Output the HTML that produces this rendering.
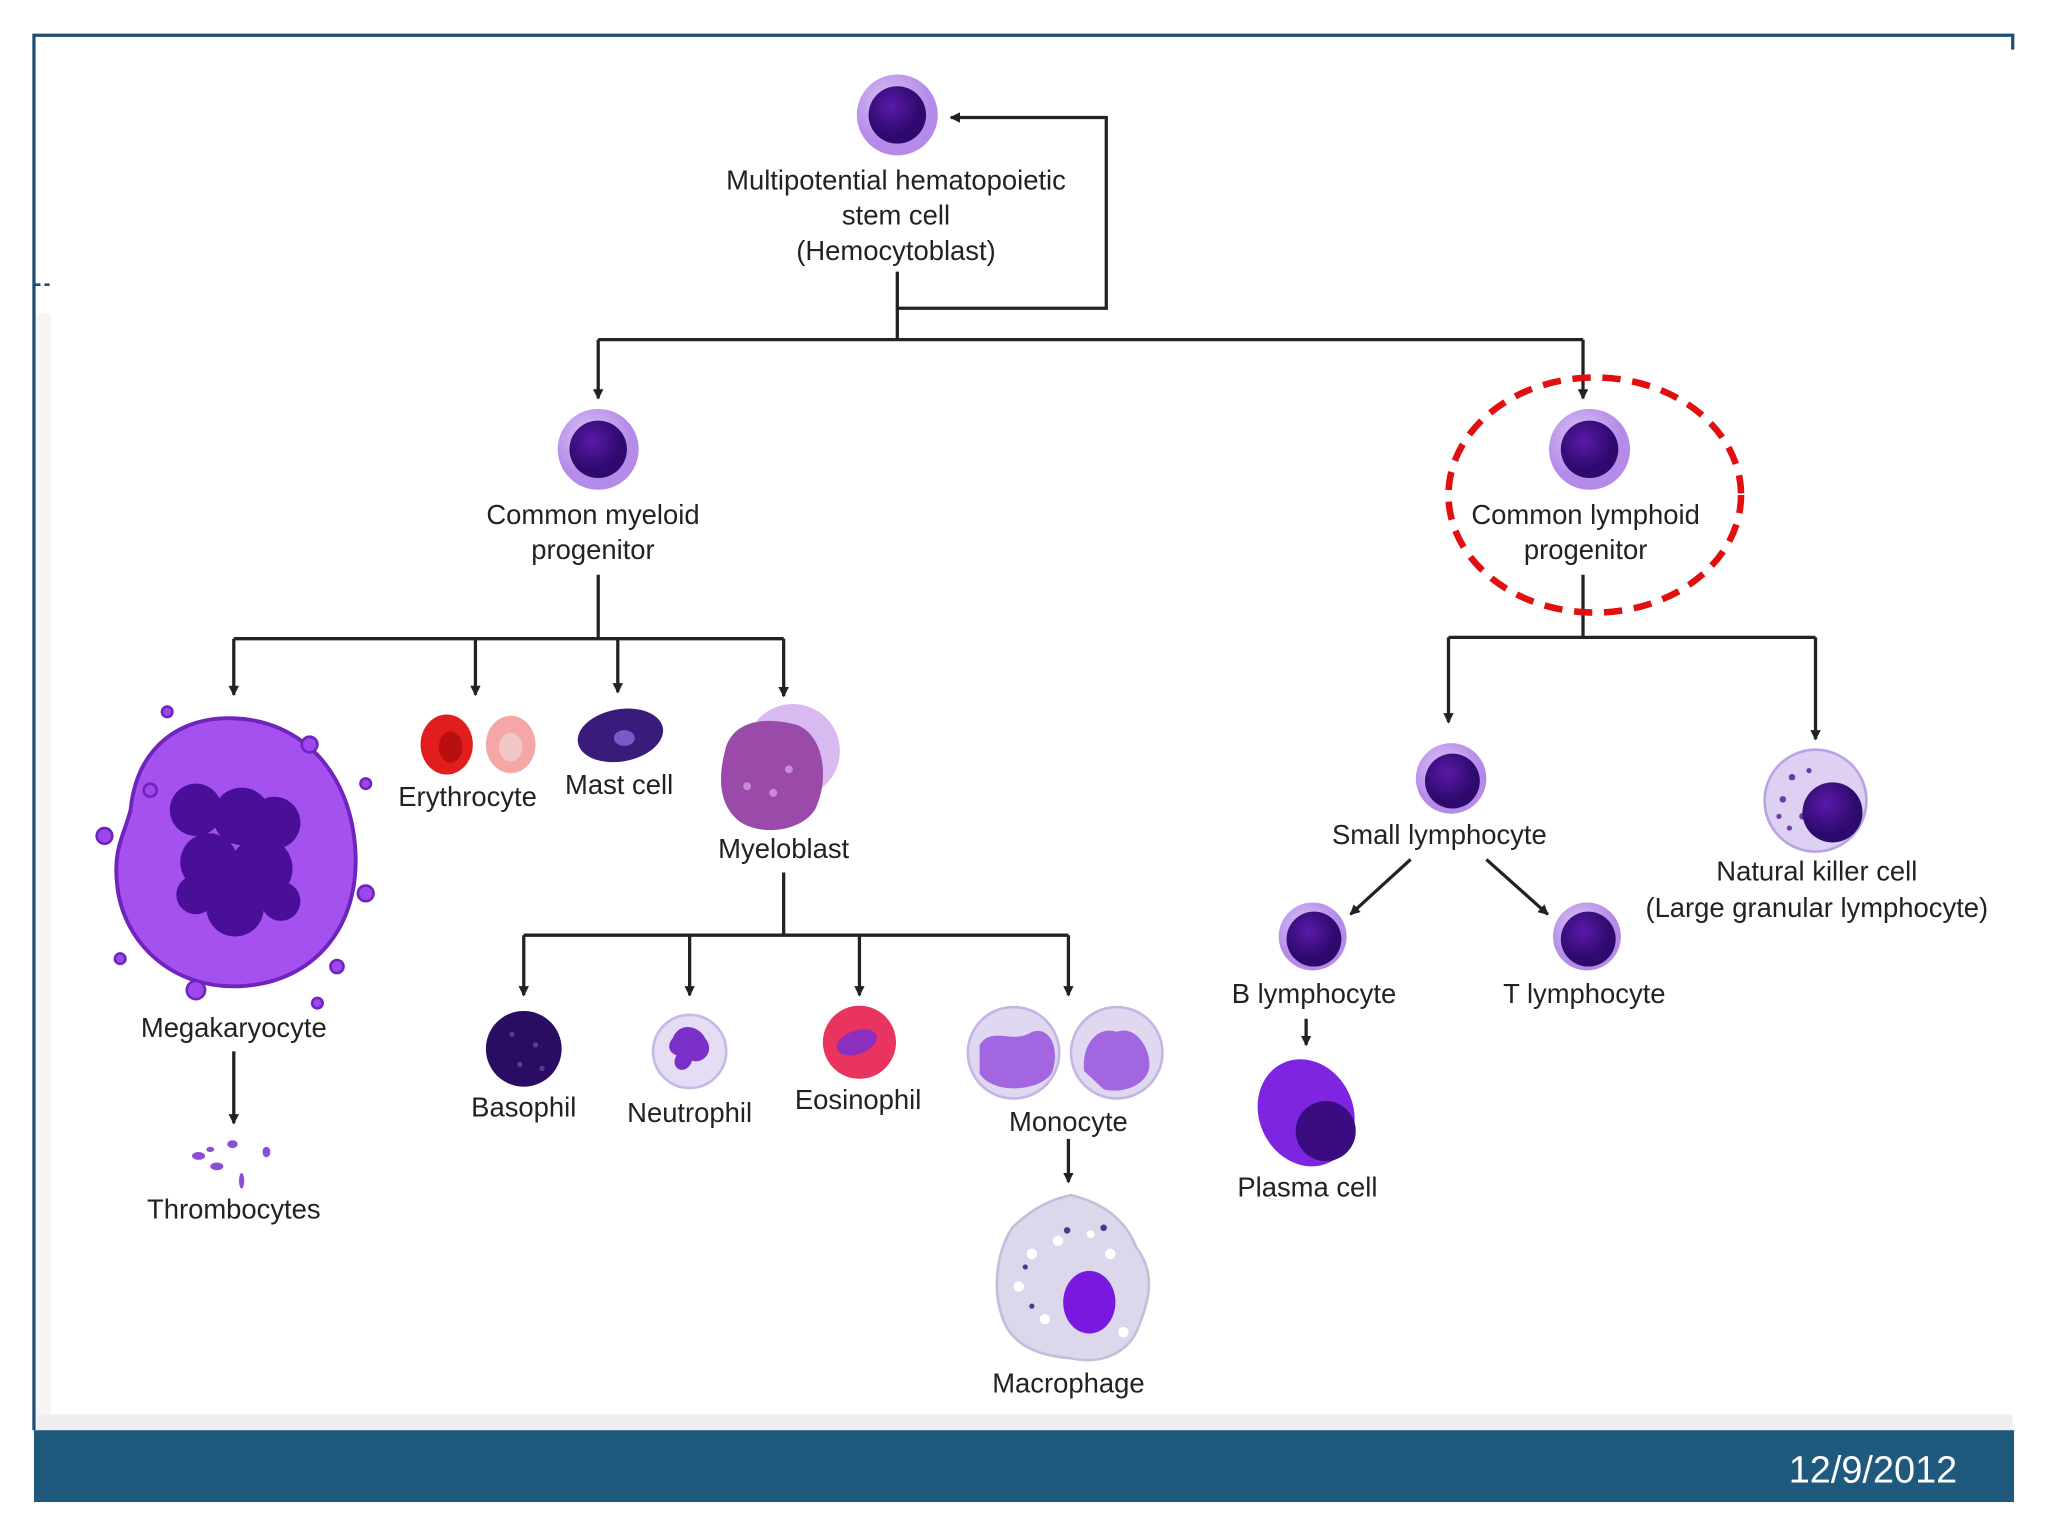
<!DOCTYPE html>
<html><head><meta charset="utf-8"><style>
html,body{margin:0;padding:0;background:#fff;}
svg{display:block;}
text{font-family:"Liberation Sans Narrow","Liberation Sans",sans-serif;font-size:21px;fill:#222;text-anchor:middle;}
</style></head><body>
<svg width="2048" height="1536" viewBox="0 0 1568 1176" preserveAspectRatio="none" xmlns="http://www.w3.org/2000/svg">
<defs>
<marker id="a" markerWidth="8" markerHeight="8" refX="7" refY="4" orient="auto" markerUnits="userSpaceOnUse"><path d="M0,0 L8,4 L0,8 z" fill="#222"/></marker>
<radialGradient id="cyt" cx="0.4" cy="0.35"><stop offset="0" stop-color="#dcc4f6"/><stop offset="1" stop-color="#b48be8"/></radialGradient>
<radialGradient id="nuc" cx="0.4" cy="0.35"><stop offset="0" stop-color="#5a1aa8"/><stop offset="1" stop-color="#2e0a6e"/></radialGradient>
</defs>
<rect width="1568" height="1176" fill="#fff"/>
<path d="M26,1095 V27 H1541 V38" fill="none" stroke="#1f4e72" stroke-width="2.5"/>
<path d="M27,218 H38" stroke="#1f4e72" stroke-width="2" stroke-dasharray="4,3"/>
<rect x="28" y="240" width="11" height="845" fill="#f5f5f5"/>
<rect x="28" y="1083" width="1513" height="12" fill="#efedf1"/>
<rect x="26" y="1095" width="1516" height="55" fill="#1f5a7e"/>
<text x="1434" y="1135" style="font-family:'Liberation Sans',sans-serif;font-size:29px;fill:#fff">12/9/2012</text>

<g fill="none" stroke="#222" stroke-width="2.5">
<path d="M687,208 V236 H847 V90 H728" marker-end="url(#a)"/>
<path d="M687,236 V260"/>
<path d="M458,260 H1212"/>
<path d="M458,260 V305" marker-end="url(#a)"/>
<path d="M1212,260 V305" marker-end="url(#a)"/>
<path d="M458,440 V489 M179,489 H600"/>
<path d="M179,489 V532" marker-end="url(#a)"/>
<path d="M364,489 V532" marker-end="url(#a)"/>
<path d="M473,489 V530" marker-end="url(#a)"/>
<path d="M600,489 V533" marker-end="url(#a)"/>
<path d="M600,668 V716 M401,716 H818"/>
<path d="M401,716 V762" marker-end="url(#a)"/>
<path d="M528,716 V762" marker-end="url(#a)"/>
<path d="M658,716 V762" marker-end="url(#a)"/>
<path d="M818,716 V762" marker-end="url(#a)"/>
<path d="M818,872 V905" marker-end="url(#a)"/>
<path d="M179,805 V860" marker-end="url(#a)"/>
<path d="M1212,440 V488 M1109,488 H1390"/>
<path d="M1109,488 V553" marker-end="url(#a)"/>
<path d="M1390,488 V566" marker-end="url(#a)"/>
<path d="M1080,658 L1034,700" marker-end="url(#a)"/>
<path d="M1138,658 L1185,700" marker-end="url(#a)"/>
<path d="M1000,780 V800" marker-end="url(#a)"/>
</g>

<g>
<circle cx="687" cy="88" r="31" fill="url(#cyt)"/><circle cx="687" cy="88" r="22" fill="url(#nuc)"/>
<circle cx="458" cy="344" r="31" fill="url(#cyt)"/><circle cx="458" cy="344" r="22" fill="url(#nuc)"/>
<circle cx="1217" cy="344" r="31" fill="url(#cyt)"/><circle cx="1217" cy="344" r="22" fill="url(#nuc)"/>
<circle cx="1111" cy="596" r="27" fill="url(#cyt)"/><circle cx="1112" cy="598" r="21" fill="url(#nuc)"/>
<circle cx="1005" cy="717" r="26" fill="url(#cyt)"/><circle cx="1006" cy="719" r="21" fill="url(#nuc)"/>
<circle cx="1215" cy="717" r="26" fill="url(#cyt)"/><circle cx="1216" cy="719" r="21" fill="url(#nuc)"/>
</g>
<circle cx="1390" cy="613" r="39" fill="#ddd0f2" stroke="#b9a3e5" stroke-width="2"/>
<g fill="#6a3da8"><circle cx="1372" cy="595" r="2.5"/><circle cx="1365" cy="612" r="2.5"/><circle cx="1380" cy="625" r="2.5"/><circle cx="1370" cy="634" r="2"/><circle cx="1385" cy="590" r="2"/><circle cx="1362" cy="625" r="2"/></g>
<circle cx="1403" cy="622" r="23" fill="url(#nuc)"/>
<ellipse cx="1000" cy="852" rx="36" ry="42" transform="rotate(-25 1000 852)" fill="#7d25e0"/>
<circle cx="1015" cy="866" r="23" fill="#3a0c80"/>
<path d="M100,620 C105,570 140,548 180,550 C230,552 268,590 272,650 C276,710 240,752 185,755 C130,758 95,720 90,680 C86,650 95,640 100,620 Z" fill="#a551f0" stroke="#6f24c0" stroke-width="3"/>
<g fill="#9c48ea" stroke="#6f24c0" stroke-width="2">
<circle cx="128" cy="545" r="4"/><circle cx="280" cy="600" r="4"/><circle cx="92" cy="734" r="4"/><circle cx="243" cy="768" r="4"/><circle cx="237" cy="570" r="6"/><circle cx="80" cy="640" r="6"/><circle cx="280" cy="684" r="6"/><circle cx="150" cy="758" r="7"/><circle cx="258" cy="740" r="5"/><circle cx="115" cy="605" r="5"/>
</g>
<g fill="#4a0f98">
<circle cx="150" cy="620" r="20"/><circle cx="185" cy="625" r="22"/><circle cx="210" cy="630" r="20"/><circle cx="160" cy="660" r="22"/><circle cx="200" cy="665" r="24"/><circle cx="180" cy="695" r="22"/><circle cx="150" cy="685" r="15"/><circle cx="215" cy="690" r="15"/>
</g>
<g fill="#8a4fd4"><ellipse cx="152" cy="885" rx="5" ry="3"/><ellipse cx="166" cy="893" rx="5" ry="3"/><ellipse cx="178" cy="876" rx="4" ry="3"/><ellipse cx="185" cy="904" rx="2" ry="6"/><ellipse cx="204" cy="882" rx="3" ry="4"/><ellipse cx="161" cy="880" rx="3" ry="2"/></g>
<ellipse cx="342" cy="570" rx="20" ry="23" fill="#e21d1d"/><ellipse cx="345" cy="572" rx="9" ry="12" fill="#b80f0f"/>
<ellipse cx="391" cy="570" rx="19" ry="22" fill="#f5a6a6"/><ellipse cx="391" cy="572" rx="9" ry="11" fill="#f0c8c8"/>
<ellipse cx="475" cy="563" rx="33" ry="20" fill="#3a1a7a" transform="rotate(-10 475 563)"/>
<ellipse cx="478" cy="565" rx="8" ry="6" fill="#7a5ac8"/>
<circle cx="607" cy="575" r="36" fill="#d8b9f2"/>
<path d="M555,575 C560,552 585,548 610,555 C630,562 636,595 624,620 C612,638 580,640 565,628 C550,615 550,595 555,575 Z" fill="#9a4aa8"/>
<circle cx="592" cy="607" r="3" fill="#c88cd6"/><circle cx="604" cy="589" r="3" fill="#c88cd6"/><circle cx="572" cy="602" r="3" fill="#c88cd6"/>
<circle cx="401" cy="803" r="29" fill="#2a0d62"/>
<g fill="#5b3aa0"><circle cx="392" cy="792" r="2"/><circle cx="410" cy="800" r="2"/><circle cx="398" cy="815" r="2"/><circle cx="415" cy="818" r="2"/></g>
<circle cx="528" cy="805" r="28" fill="#e5ddf3" stroke="#c7b8e6" stroke-width="2"/>
<path d="M515,795 C520,782 535,785 540,795 C548,805 538,815 530,812 C525,825 512,818 518,808 C510,805 512,798 515,795 Z" fill="#7a2fc8"/>
<circle cx="658" cy="798" r="28" fill="#e8345e"/>
<ellipse cx="656" cy="798" rx="16" ry="9" fill="#8a2fc0" transform="rotate(-20 656 798)"/>
<circle cx="776" cy="806" r="35" fill="#e0d8f0" stroke="#c5b5e4" stroke-width="2"/>
<path d="M750,800 C760,785 775,800 790,790 C805,785 812,805 805,822 C795,836 760,838 750,822 Z" fill="#a266e0"/>
<circle cx="855" cy="806" r="35" fill="#e0d8f0" stroke="#c5b5e4" stroke-width="2"/>
<path d="M830,820 C828,800 840,785 855,790 C868,785 880,800 880,815 C880,830 860,838 845,834 Z" fill="#a266e0"/>
<path d="M775,940 C790,925 805,918 820,915 C840,920 860,930 870,955 C885,975 880,995 872,1015 C865,1035 845,1045 820,1040 C795,1038 775,1030 768,1010 C760,990 762,960 775,940 Z" fill="#dcd7ea" stroke="#c4bddb" stroke-width="2"/>
<g fill="#fff"><circle cx="790" cy="960" r="4"/><circle cx="810" cy="950" r="4"/><circle cx="780" cy="985" r="4"/><circle cx="800" cy="1010" r="4"/><circle cx="850" cy="960" r="4"/><circle cx="860" cy="1020" r="4"/><circle cx="835" cy="945" r="3"/></g>
<g fill="#4a3a8a"><circle cx="817" cy="942" r="2.5"/><circle cx="845" cy="940" r="2.5"/><circle cx="785" cy="970" r="2"/><circle cx="790" cy="1000" r="2"/></g>
<ellipse cx="834" cy="997" rx="20" ry="24" fill="#7a18e0"/>

<ellipse cx="1221" cy="379" rx="112" ry="90" fill="none" stroke="#e01010" stroke-width="5" stroke-dasharray="14,9"/>

<text x="686" y="145">Multipotential hematopoietic</text>
<text x="686" y="172">stem cell</text>
<text x="686" y="199">(Hemocytoblast)</text>
<text x="454" y="401">Common myeloid</text>
<text x="454" y="428">progenitor</text>
<text x="1214" y="401">Common lymphoid</text>
<text x="1214" y="428">progenitor</text>
<text x="358" y="617">Erythrocyte</text>
<text x="474" y="608">Mast cell</text>
<text x="600" y="657">Myeloblast</text>
<text x="179" y="794">Megakaryocyte</text>
<text x="179" y="933">Thrombocytes</text>
<text x="401" y="855">Basophil</text>
<text x="528" y="859">Neutrophil</text>
<text x="657" y="849">Eosinophil</text>
<text x="818" y="866">Monocyte</text>
<text x="818" y="1066">Macrophage</text>
<text x="1102" y="646">Small lymphocyte</text>
<text x="1391" y="674">Natural killer cell</text>
<text x="1391" y="702">(Large granular lymphocyte)</text>
<text x="1006" y="768">B lymphocyte</text>
<text x="1213" y="768">T lymphocyte</text>
<text x="1001" y="916">Plasma cell</text>
</svg>
</body></html>
